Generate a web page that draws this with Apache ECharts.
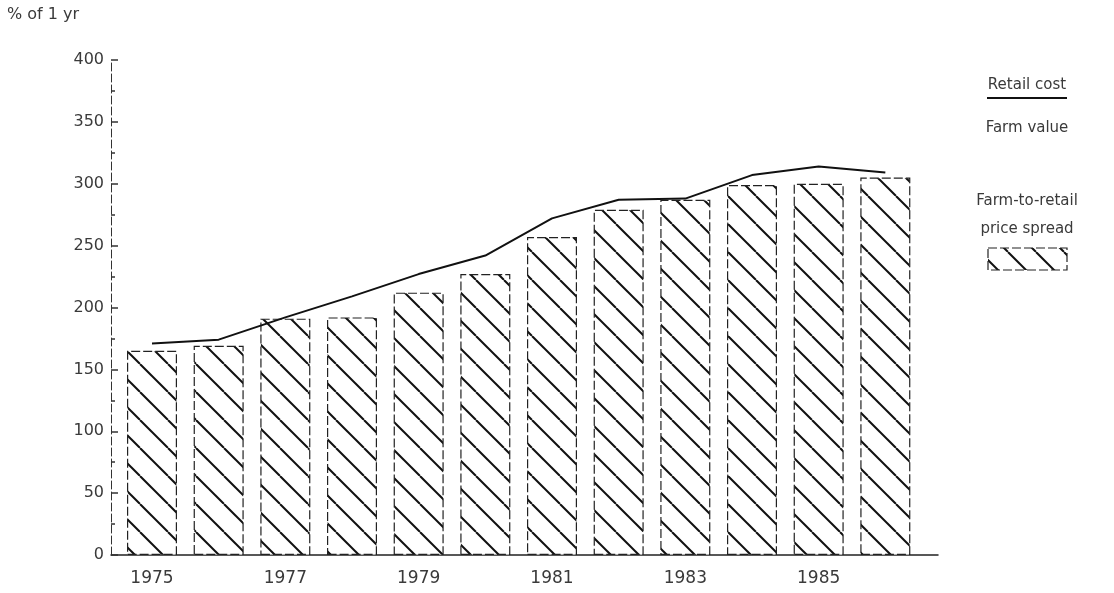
<!DOCTYPE html>
<html>
<head>
<meta charset="utf-8">
<script src="https://cdn.jsdelivr.net/npm/echarts@6/dist/echarts.min.js"></script>
<style>
html,body{margin:0;padding:0;background:#fff;}
#c{width:1114px;height:593px;}
</style>
</head>
<body>
<div id="c"></div>
<script>
const years = [1975, 1976, 1977, 1978, 1979, 1980, 1981, 1982, 1983, 1984, 1985, 1986];
const spreadValues = [165, 169, 191, 192, 212, 227, 257, 279, 287, 299, 300, 305];
const retailCost = [171, 174, 192, 209, 227, 242, 272, 287, 288, 307, 314, 309];
const xLabelYears = [1975, 1977, 1979, 1981, 1983, 1985];
const yAxisTitle = '% of 1 yr';
const legendLabels = ['Retail cost', 'Farm value', 'Farm-to-retail', 'price spread'];

function hatch() {
  const s = 28;
  const cv = document.createElement('canvas');
  cv.width = s; cv.height = s;
  const g = cv.getContext('2d');
  g.fillStyle = '#fff';
  g.fillRect(0, 0, s, s);
  g.strokeStyle = '#111';
  g.lineWidth = 2;
  [-s, 0, s].forEach(o => {
    g.beginPath();
    g.moveTo(o, 0);
    g.lineTo(o + s, s);
    g.stroke();
  });
  return cv;
}
const pat = hatch();
const textColor = '#3a3a3a';
const font = 'DejaVu Sans';

const chart = echarts.init(document.getElementById('c'));
chart.setOption({
  animation: false,
  backgroundColor: '#fff',
  grid: { left: 111, right: 176, top: 60, bottom: 38 },
  xAxis: {
    type: 'value',
    min: 1974.385,
    max: 1986.79,
    splitLine: { show: false },
    axisTick: { show: false },
    axisLine: { show: true, lineStyle: { color: '#222', width: 1.5 } },
    axisLabel: {
      customValues: xLabelYears,
      formatter: v => String(v),
      color: textColor,
      fontFamily: font,
      fontSize: 17,
      margin: 15
    }
  },
  yAxis: {
    type: 'value',
    min: 0,
    max: 400,
    interval: 50,
    splitLine: { show: false },
    axisLine: { show: true, lineStyle: { color: '#333', width: 1, type: [8, 3] } },
    axisTick: { show: true, inside: true, length: 7, lineStyle: { color: '#333', width: 1.5 } },
    minorTick: { show: true, splitNumber: 2, length: 4, lineStyle: { color: '#333', width: 1.5 } },
    axisLabel: { color: textColor, fontFamily: font, fontSize: 16, margin: 7 }
  },
  series: [
    {
      name: 'Farm-to-retail price spread',
      type: 'bar',
      barWidth: 50,
      data: years.map((y, i) => [y, spreadValues[i]]),
      itemStyle: {
        color: { image: pat, repeat: 'repeat' },
        borderColor: '#222',
        borderWidth: 1.2,
        borderType: [9, 3]
      }
    },
    {
      name: 'Retail cost',
      type: 'line',
      data: years.map((y, i) => [y, retailCost[i]]),
      showSymbol: false,
      symbol: 'none',
      lineStyle: { color: '#111', width: 2 },
      z: 5
    }
  ],
  graphic: [
    { type: 'text', left: 7, top: 7, style: { text: yAxisTitle, fill: textColor, font: '16px ' + font } },
    { type: 'text', x: 1027, y: 85, style: { text: legendLabels[0], fill: textColor, font: '15px ' + font, align: 'center', verticalAlign: 'middle' } },
    { type: 'line', shape: { x1: 987, y1: 98, x2: 1067, y2: 98 }, style: { stroke: '#111', lineWidth: 2 } },
    { type: 'text', x: 1027, y: 128, style: { text: legendLabels[1], fill: textColor, font: '15px ' + font, align: 'center', verticalAlign: 'middle' } },
    { type: 'text', x: 1027, y: 201, style: { text: legendLabels[2], fill: textColor, font: '15px ' + font, align: 'center', verticalAlign: 'middle' } },
    { type: 'text', x: 1027, y: 229, style: { text: legendLabels[3], fill: textColor, font: '15px ' + font, align: 'center', verticalAlign: 'middle' } },
    { type: 'rect', shape: { x: 988, y: 248, width: 79, height: 22 }, style: { fill: { image: pat, repeat: 'repeat' }, stroke: '#222', lineWidth: 1.2, lineDash: [9, 3] } }
  ]
});
</script>
</body>
</html>
